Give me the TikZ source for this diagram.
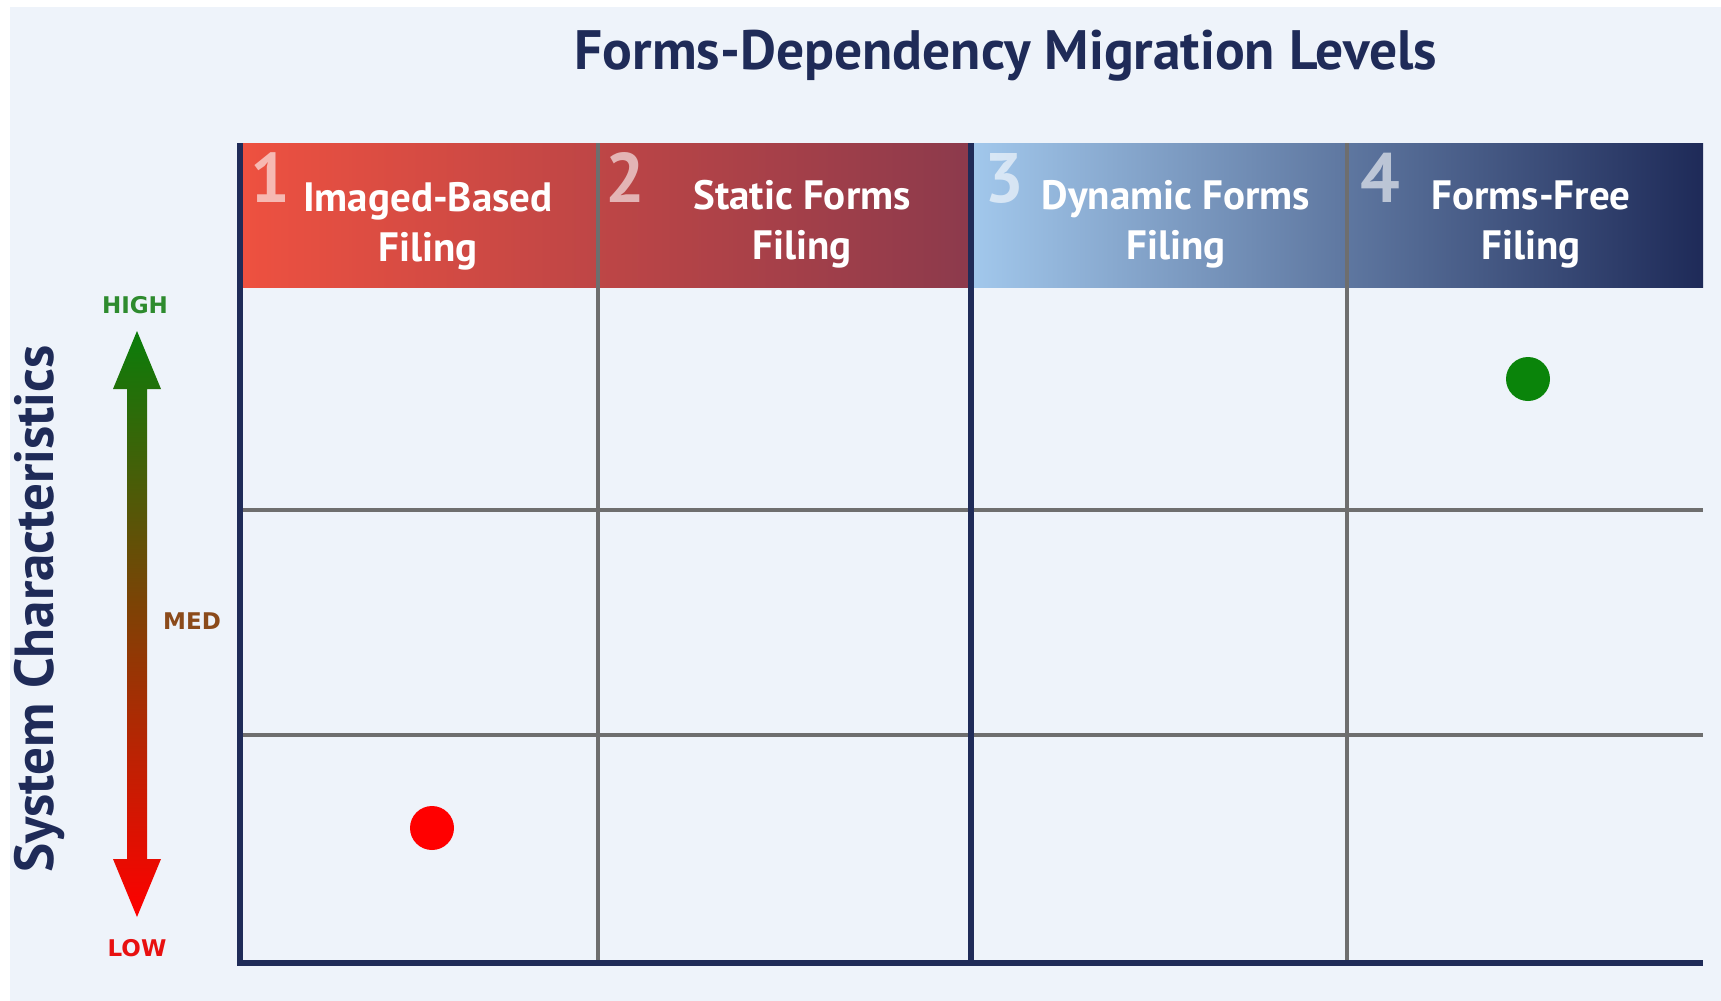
\documentclass[tikz,border=0pt]{standalone}
\usepackage{fontspec}
\setmainfont{PT Sans}
\newfontfamily\labelfont{DejaVu Sans}
\begin{document}
\begin{tikzpicture}[x=1pt,y=-1pt]
  % palette
  \definecolor{bgpanel}{HTML}{EEF3FA}
  \definecolor{navy}{HTML}{1F2B58}
  \definecolor{gridgray}{HTML}{6E6E6E}
  \definecolor{redA}{HTML}{EE5140}
  \definecolor{redB}{HTML}{8C3A4C}
  \definecolor{blueA}{HTML}{A2C8EC}
  \definecolor{blueB}{HTML}{1E2A58}
  \definecolor{hiGreen}{HTML}{2E8B2E}
  \definecolor{medBrown}{HTML}{8B4A1A}
  \definecolor{loRed}{HTML}{E81010}
  \definecolor{arrowGreen}{HTML}{0A7D0A}
  \definecolor{arrowMid}{HTML}{7A3A0A}
  \definecolor{dotGreen}{HTML}{0A840A}
  \tikzset{
    gridline/.style={draw=gridgray, line width=3.5pt},
    axisline/.style={draw=navy, line width=5.5pt},
    colhead/.style={text=white, font=\bfseries\fontsize{41}{50}\selectfont, align=center, inner sep=0pt},
    levelnum/.style={text=white, opacity=0.6, font=\bfseries\fontsize{70}{70}\selectfont, inner sep=0pt},
    scalelabel/.style={font=\labelfont\bfseries\fontsize{23}{23}\selectfont, inner sep=0pt},
    marker/.style={circle, minimum size=44pt, inner sep=0pt},
  }
  \useasboundingbox (0,0) rectangle (1721,1001);
  \fill[white] (0,0) rectangle (1721,1001);
  \fill[bgpanel] (10,7) rectangle (1721,1001);

  % title
  \node[text=navy, font=\bfseries\fontsize{55.5}{60}\selectfont, inner sep=0pt] (title) at (1006,56) {Forms-Dependency Migration Levels};

  % column header bands
  \shade[left color=redA, right color=redB] (240,143) rectangle (971,287);
  \shade[left color=blueA, right color=blueB] (971,143) rectangle (1703,287);

  % grid
  \draw[gridline] (598,143) -- (598,963);
  \draw[gridline] (1347,143) -- (1347,963);
  \draw[gridline] (240,510) -- (1703,510);
  \draw[gridline] (240,735) -- (1703,735);
  \draw[axisline] (971,143) -- (971,963);
  \draw[axisline, line join=miter] (240,143) -- (240,963) -- (1703,963);

  % level numbers
  \node[levelnum] (n1) at (270,178) {1};
  \node[levelnum] (n2) at (625,178) {2};
  \node[levelnum] (n3) at (1004,178) {3};
  \node[levelnum] (n4) at (1380,178) {4};

  % column titles
  \node[colhead] (c1) at (428,226) {Imaged-Based\\Filing};
  \node[colhead] (c2) at (802,224) {Static Forms\\Filing};
  \node[colhead] (c3) at (1176,224) {Dynamic Forms\\Filing};
  \node[colhead] (c4) at (1531,224) {Forms-Free\\Filing};

  % vertical axis title
  \node[text=navy, font=\bfseries\fontsize{55}{60}\selectfont, rotate=90, inner sep=0pt] (ytitle) at (40,609) {System Characteristics};

  % double-headed scale arrow
  \shade[top color=arrowGreen, middle color=arrowMid, bottom color=red]
    (137,331) -- (161,389) -- (147,389) -- (147,859) -- (161,859) -- (137,917)
    -- (113,859) -- (127,859) -- (127,389) -- (113,389) -- cycle;

  \node[scalelabel, text=hiGreen] (high) at (135,305) {HIGH};
  \node[scalelabel, text=medBrown] (med) at (192,621) {MED};
  \node[scalelabel, text=loRed] (low) at (137,948) {LOW};

  % position markers
  \node[marker, fill=red] (lowdot) at (432,828) {};
  \node[marker, fill=dotGreen] (highdot) at (1528,379) {};
\end{tikzpicture}
\end{document}
